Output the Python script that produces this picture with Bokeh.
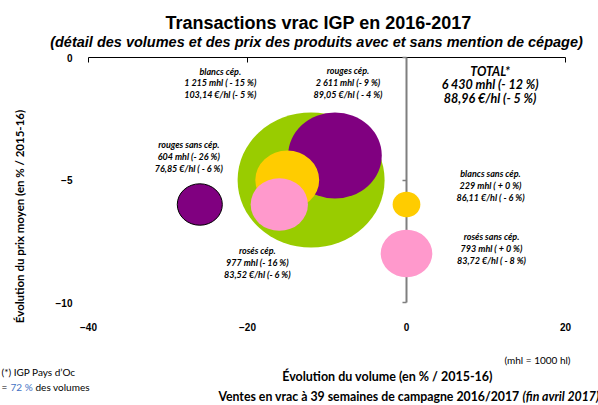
import math
from bokeh.plotting import figure
from bokeh.models import ColumnDataSource, LinearAxis, FixedTicker, Range1d, Label
from bokeh.core.properties import value
from bokeh.embed import file_html
from bokeh.resources import INLINE

# ---------------- data ----------------
series = ["TOTAL*", "rouges cép.", "blancs cép.", "rosés cép.",
          "rouges sans cép.", "blancs sans cép.", "rosés sans cép."]
volume_mhl = [6430, 2611, 1215, 977, 604, 229, 793]
volume_change = [-12, -9, -15, -16, -26, 0, 0]          # % / 2015-16
price_change = [-5, -4, -5, -6, -6, -6, -8]             # % / 2015-16
volume_text = ["6 430 mhl (- 12 %)", "2 611 mhl (- 9 %)", "1 215 mhl ( - 15 %)",
               "977 mhl (- 16 %)", "604 mhl (- 26 %)", "229 mhl ( + 0 %)",
               "793 mhl ( + 0 %)"]
price_text = ["88,96 €/hl (- 5 %)", "89,05 €/hl ( - 4 %)", "103,14 €/hl (- 5 %)",
              "83,52 €/hl (- 6 %)", "76,85 €/hl ( - 6 %)", "86,11 €/hl ( - 6 %)",
              "83,72 €/hl ( - 8 %)"]
colors = ["#99CC00", "#800080", "#FFCC00", "#FF99CC", "#800080", "#FFCC00", "#FF99CC"]
x_ticks = [-40, -20, 0, 20]
y_ticks = [0, -5, -10]

# ---------------- layout / style ----------------
W, H = 598, 405
# plot area (pixels on the canvas) for the axis domain x -40..20, y -10..0
PX_L, PX_R, PY_T, PY_B = 88, 565, 57, 302
XMIN, XMAX, YMIN, YMAX = x_ticks[0], x_ticks[-1], y_ticks[-1], y_ticks[0]
ux = (XMAX - XMIN) / (PX_R - PX_L)
uy = (YMAX - YMIN) / (PY_B - PY_T)
x_range = Range1d(XMIN - PX_L * ux, XMAX + (W - PX_R) * ux)
y_range = Range1d(YMIN - (H - PY_B) * uy, YMAX + PY_T * uy)

MAX_BUBBLE_PX = 147
ELLIPSE_RATIO = 0.92
# label offsets (screen px) relative to each bubble centre
label_dx = [179, 13, -67, -22, -11, 84, 85]
label_dy = [-95, -73, -97, 58, -48, -19, -5]
outline_alpha = [0, 0, 0, 0, 1, 0, 0]

CAL = "Lato"
ARIAL = "Liberation Sans"

p = figure(width=W, height=H, x_range=x_range, y_range=y_range,
           output_backend="svg", toolbar_location=None,
           x_axis_location=None, y_axis_location=None,
           min_border=0, min_border_left=0, min_border_right=0,
           min_border_top=0, min_border_bottom=0)
p.outline_line_color = None
p.background_fill_color = "white"
p.border_fill_color = "white"
p.xgrid.visible = False
p.ygrid.visible = False

# x axis line at y = 0 (top), ticks pointing down
ax_top = LinearAxis(fixed_location=0, bounds=(XMIN, XMAX), ticker=FixedTicker(ticks=x_ticks),
                    major_tick_in=5, major_tick_out=0, minor_tick_line_color=None,
                    major_label_text_color=None, axis_line_color="black",
                    major_tick_line_color="black", level="underlay")
p.add_layout(ax_top, "above")

# x tick labels, low position
ax_bottom = LinearAxis(fixed_location=YMIN, ticker=FixedTicker(ticks=x_ticks),
                       axis_line_color=None, major_tick_line_color=None,
                       minor_tick_line_color=None, major_label_standoff=14,
                       major_label_text_font=ARIAL, major_label_text_font_style="bold",
                       major_label_text_font_size="10px", major_label_text_color="black")
p.add_layout(ax_bottom, "below")

# y tick labels, low position
ax_left = LinearAxis(fixed_location=XMIN, ticker=FixedTicker(ticks=y_ticks),
                     axis_line_color=None, major_tick_line_color=None,
                     minor_tick_line_color=None, major_label_standoff=10,
                     major_label_text_font=ARIAL, major_label_text_font_style="bold",
                     major_label_text_font_size="10px", major_label_text_color="black")
p.add_layout(ax_left, "left")

# y axis line at x = 0
ax_zero = LinearAxis(fixed_location=0, bounds=(YMIN, YMAX), ticker=FixedTicker(ticks=y_ticks),
                     axis_line_color="#7F7F7F", axis_line_width=2,
                     major_tick_line_color="#7F7F7F", major_tick_line_width=1.5,
                     major_tick_in=0, major_tick_out=4, minor_tick_line_color=None,
                     major_label_text_color=None, level="underlay")
p.add_layout(ax_zero, "left")

widths = [MAX_BUBBLE_PX * math.sqrt(v / max(volume_mhl)) for v in volume_mhl]
heights = [w * ELLIPSE_RATIO for w in widths]
src = ColumnDataSource(dict(x=volume_change, y=price_change, w=widths, h=heights,
                            color=colors, la=outline_alpha))
p.ellipse(x="x", y="y", width="w", height="h", width_units="screen", height_units="screen",
          fill_color="color", line_color="black", line_alpha="la", line_width=1, source=src)

texts = [f"{s}\n{v}\n{pr}" for s, v, pr in zip(series, volume_text, price_text)]
big = ColumnDataSource(dict(x=volume_change[:1], y=price_change[:1], t=texts[:1],
                            dx=label_dx[:1], dy=label_dy[:1]))
small = ColumnDataSource(dict(x=volume_change[1:], y=price_change[1:], t=texts[1:],
                              dx=label_dx[1:], dy=label_dy[1:]))
p.text(x="x", y="y", text="t", x_offset="dx", y_offset="dy", source=big,
       text_align="center", text_baseline="middle", text_font=value(CAL),
       text_font_style="bold italic", text_font_size="12.5px", text_line_height=0.93,
       text_color="black")
p.text(x="x", y="y", text="t", x_offset="dx", y_offset="dy", source=small,
       text_align="center", text_baseline="middle", text_font=value(CAL),
       text_font_style="bold italic", text_font_size="9px", text_line_height=1.05,
       text_color="black")


def place(text, cx, cy, font=CAL, size="10px", style="normal", align="left",
          color="black", angle=0.0):
    lab = Label(x=cx, y=H - cy, x_units="screen", y_units="screen",
                text=text, text_font=font, text_font_size=size, text_font_style=style,
                text_align=align, text_baseline="middle", text_color=color, angle=angle)
    p.add_layout(lab)


place("Transactions vrac IGP en 2016-2017", 318, 22, font=ARIAL, size="18px",
      style="bold", align="center")
place("(détail des volumes et des prix des produits avec et sans mention de cépage)",
      316, 41, font=ARIAL, size="14.5px", style="bold italic", align="center")
place("Évolution du prix moyen (en % / 2015-16)", 19, 216, size="11.5px", style="bold",
      align="center", angle=math.pi / 2)
place("Évolution du volume (en % / 2015-16)", 387, 376, size="12.5px", style="bold",
      align="center")
place("(mhl = 1000 hl)", 537, 359, size="10px", align="center")
place("(*) IGP Pays d’Oc", 1, 371, size="10px")
place("=", 1, 386, size="10px")
place("72 %", 10, 386, size="10px", color="#4472C4")
place("des volumes", 35, 386, size="10px")
place("Ventes en vrac à 39 semaines de campagne 2016/2017", 519, 396, size="12.3px",
      style="bold", align="right")
place("(fin avril 2017)", 522, 396, size="12.3px", style="bold italic")

open("out.html", "w").write(file_html(p, INLINE))
